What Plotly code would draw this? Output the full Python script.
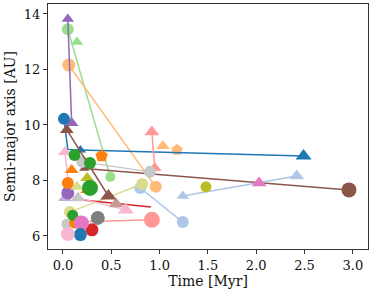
import plotly.graph_objects as go

# ---- data (time in Myr, semi-major axis in AU) ----
blue_t = [0.01, 0.05, 0.18, 2.49]
blue_a = [10.22, 9.12, 9.10, 8.88]
blue2_t = [0.18]
blue2_a = [6.05]
purple_t = [0.05, 0.09]
purple_a = [13.82, 10.07]
purple2_t = [0.05]
purple2_a = [7.55]
lgreen_t = [0.05, 0.49]
lgreen_a = [13.45, 8.13]
lgreen2_t = [0.145]
lgreen2_a = [12.99]
lorange_t = [0.06, 0.96]
lorange_a = [12.16, 7.77]
lorange2_t = [1.035, 1.18]
lorange2_a = [9.24, 9.10]
brown_t = [0.04, 0.47]
brown_a = [9.82, 7.44]
brown2_t = [0.22, 2.96]
brown2_a = [8.43, 7.66]
lblue_t = [0.80, 1.24]
lblue_a = [7.73, 6.50]
lblue2_t = [1.24, 2.42]
lblue2_a = [7.44, 8.16]
pink_t = [2.03]
pink_a = [7.91]
pink2_t = [0.19]
pink2_a = [6.47]
olive_t = [1.48]
olive_a = [7.77]
olive2_t = [0.25]
olive2_a = [8.09]
lolive_t = [0.07, 0.82]
lolive_a = [6.86, 7.87]
lolive2_t = [0.145]
lolive2_a = [7.77]
lred_t = [0.92, 0.95]
lred_a = [9.75, 8.45]
lred2_t = [0.10, 0.92]
lred2_a = [6.50, 6.58]
red_t = [0.20, 0.91]
red_a = [7.30, 7.04]
red2_t = [0.30]
red2_a = [6.22]
gray_t = [0.36]
gray_a = [6.65]
lgray_t = [0.20, 0.90]
lgray_a = [8.67, 8.31]
lgray2_t = [0.04, 0.155]
lgray2_a = [6.43, 7.37]
green_t = [0.12, 0.28, 0.28, 0.10]
green_a = [8.92, 8.63, 7.73, 6.75]
orange_t = [0.40, 0.05, 0.09, 0.25, 0.12]
orange_a = [8.88, 7.91, 8.38, 7.66, 6.47]
lpink_t = [0.02, 0.07, 0.65]
lpink_a = [9.03, 7.45, 6.94]
lpink2_t = [0.05]
lpink2_a = [6.07]
lbrown_t = [0.55]
lbrown_a = [7.15]
lpurple_t = [0.02]
lpurple_a = [7.37]

x_ticks = [0.0, 0.5, 1.0, 1.5, 2.0, 2.5, 3.0]
y_ticks = [6, 8, 10, 12, 14]

# ---- styles ----
C = dict(blue="#1f77b4", lblue="#aec7e8", orange="#ff7f0e", lorange="#ffbb78",
         green="#2ca02c", lgreen="#98df8a", red="#d62728", lred="#ff9896",
         purple="#9467bd", lpurple="#c5b0d5", brown="#8c564b", lbrown="#c49c94",
         pink="#e377c2", lpink="#f7b6d2", gray="#7f7f7f", lgray="#c7c7c7",
         olive="#bcbd22", lolive="#dbdb8d")
TRI, CIR, PEN = "triangle-up", "circle", "pentagon"

tracks = [
    (lgreen_t, lgreen_a, "lgreen", [CIR, CIR], [12, 10], True),
    (lgreen2_t, lgreen2_a, "lgreen", [TRI], [11], False),
    (lorange_t, lorange_a, "lorange", [CIR, CIR], [13, 12], True),
    (lorange2_t, lorange2_a, "lorange", [TRI, PEN], [12, 12], False),
    (purple_t, purple_a, "purple", [TRI, TRI], [11, 12], True),
    (blue_t, blue_a, "blue", [CIR, CIR, TRI, TRI], [12, 0, 10, 14], True),
    (brown2_t, brown2_a, "brown", [TRI, CIR], [9, 15], True),
    (lblue2_t, lblue2_a, "lblue", [TRI, TRI], [11, 13], True),
    (lblue_t, lblue_a, "lblue", [CIR, CIR], [12, 12], True),
    (pink_t, pink_a, "pink", [TRI], [13], False),
    (olive_t, olive_a, "olive", [CIR], [11], False),
    (lred_t, lred_a, "lred", [TRI, TRI], [13, 12], True),
    (lgray_t, lgray_a, "lgray", [CIR, CIR], [12, 12], True),
    (lolive_t, lolive_a, "lolive", [CIR, CIR], [12, 12], True),
    (red_t, red_a, "red", [CIR, CIR], [0, 0], True),
    (lred2_t, lred2_a, "lred", [CIR, CIR], [0, 16], True),
    (lpink_t, lpink_a, "lpink", [TRI, CIR, TRI], [12, 0, 14], True),
    (lbrown_t, lbrown_a, "lbrown", [TRI], [13], False),
    (brown_t, brown_a, "brown", [TRI, TRI], [12, 14], True),
    (lpurple_t, lpurple_a, "lpurple", [TRI], [12], False),
    (lgray2_t, lgray2_a, "lgray", [CIR, TRI], [11, 13], False),
    (purple2_t, purple2_a, "purple", [CIR], [13], False),
    (olive2_t, olive2_a, "olive", [TRI], [12], False),
    (lolive2_t, lolive2_a, "lolive", [TRI], [12], False),
    (orange_t, orange_a, "orange", [PEN, CIR, TRI, TRI, CIR], [13, 12, 12, 12, 11], False),
    (green_t, green_a, "green", [CIR, CIR, CIR, CIR], [12, 12, 16, 11], False),
    (gray_t, gray_a, "gray", [CIR], [14], False),
    (red2_t, red2_a, "red", [CIR], [13], False),
    (pink2_t, pink2_a, "pink", [CIR], [15], False),
    (blue2_t, blue2_a, "blue", [CIR], [13], False),
    (lpink2_t, lpink2_a, "lpink", [CIR], [14], False),
]

fig = go.Figure()
for t, a, col, syms, sizes, lined in tracks:
    fig.add_trace(go.Scatter(
        x=t, y=a,
        mode="lines+markers" if lined else "markers",
        line=dict(color=C[col], width=1.5),
        marker=dict(color=C[col], symbol=syms, size=sizes, opacity=1,
                    line=dict(width=0)),
        opacity=1,
        showlegend=False, hoverinfo="skip"))

font = "DejaVu Serif"
axis_common = dict(showline=True, mirror=True, linecolor="#333", linewidth=1,
                   ticks="outside", ticklen=4, tickwidth=1, tickcolor="#333",
                   showgrid=False, zeroline=False, automargin=False,
                   tickfont=dict(family=font, size=13, color="#111"))
fig.update_layout(
    width=374, height=294,
    margin=dict(l=48, r=6, t=4, b=45),
    paper_bgcolor="white", plot_bgcolor="white",
    font=dict(family=font, size=13, color="#111"),
    xaxis=dict(range=[-0.155, 3.157], tickvals=x_ticks,
               ticktext=[f"{v:.1f}" for v in x_ticks],
               title=dict(text="Time [Myr]", font=dict(family=font, size=14), standoff=2),
               **axis_common),
    yaxis=dict(range=[5.53, 14.36], tickvals=y_ticks,
               title=dict(text="Semi-major axis [AU]", font=dict(family=font, size=14), standoff=4),
               **axis_common),
)
fig.write_html("out.html", config={"displayModeBar": False},
               post_script="document.body.style.margin='0px';document.body.style.overflow='hidden';")
